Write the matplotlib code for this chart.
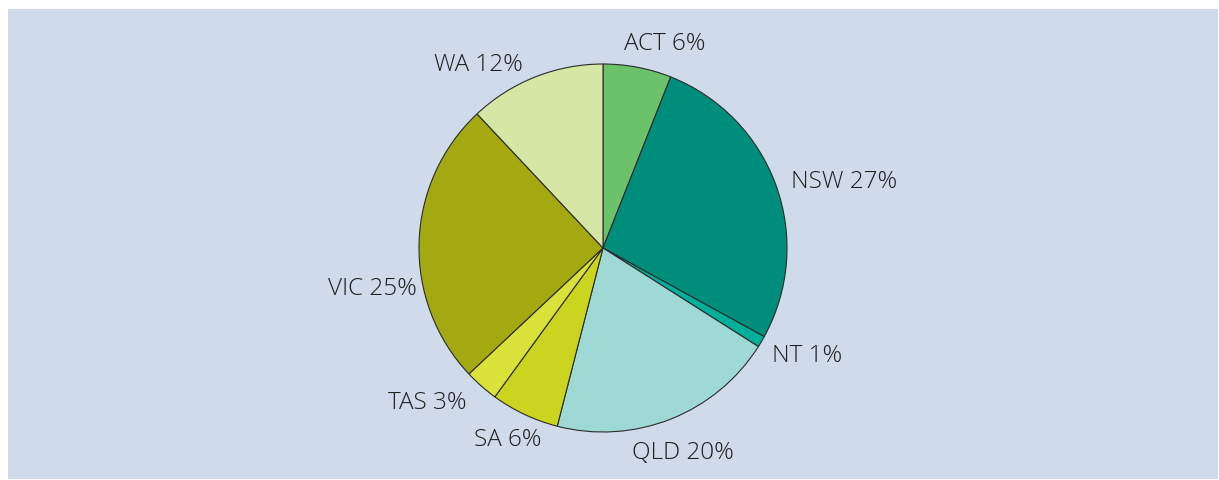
import matplotlib.pyplot as plt
from matplotlib.patches import Rectangle

# share by state (%)
states = ["ACT", "NSW", "NT", "QLD", "SA", "TAS", "VIC", "WA"]
shares = [6, 27, 1, 20, 6, 3, 25, 12]
colors = ["#6cc16b", "#008e7c", "#00b09b", "#9ed9d6",
          "#cbd51f", "#dbe13b", "#a4a912", "#d6e6a5"]

# label centres, in pie-radius units
label_pos = {
    "ACT": (0.335, 1.114), "NSW": (1.31, 0.362), "NT": (1.108, -0.584),
    "QLD": (0.437, -1.108), "SA": (-0.519, -1.038), "TAS": (-0.957, -0.838),
    "VIC": (-1.254, -0.216), "WA": (-0.676, 1.0),
}

W, H = 1219, 481
fig = plt.figure(figsize=(W / 100, H / 100), dpi=100, facecolor="white")
fig.patches.append(Rectangle((8 / W, 1 / H), 1210 / W, 470 / H,
                             transform=fig.transFigure, facecolor="#cfdbea",
                             edgecolor="none", zorder=-5))

cx, cy, r = 603, 249, 184
ax = fig.add_axes([(cx - r) / W, (H - cy - r) / H, 2 * r / W, 2 * r / H])
ax.set_zorder(2)
ax.pie(shares, colors=colors, startangle=90, counterclock=False,
       wedgeprops=dict(edgecolor="#2b2b2b", linewidth=0.8))
ax.set_xlim(-1, 1)
ax.set_ylim(-1, 1)
ax.set_aspect("equal")
ax.axis("off")

for s, v in zip(states, shares):
    x, y = label_pos[s]
    ax.text(x, y, f"{s} {v}%", ha="center", va="center", fontsize=17.5,
            family=["Open Sans", "DejaVu Sans"], weight="light",
            color="#1f1f1f")

fig.savefig("out.png", dpi=100, facecolor="white")
